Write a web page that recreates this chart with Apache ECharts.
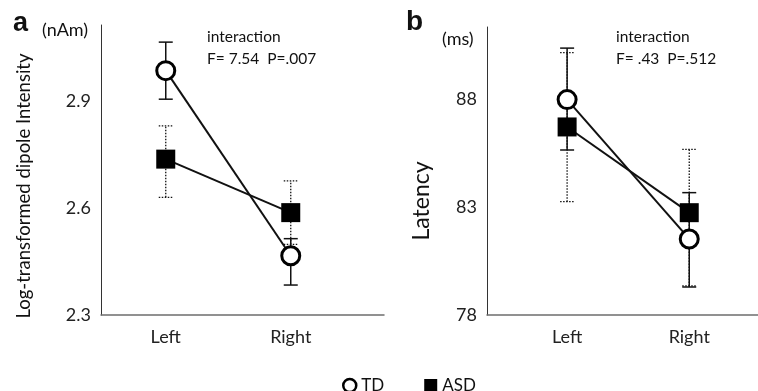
<!DOCTYPE html>
<html>
<head>
<meta charset="utf-8">
<script src="https://cdn.jsdelivr.net/npm/echarts@6/dist/echarts.min.js"></script>
<style>
html,body{margin:0;padding:0;background:#fff;}
#chart{width:758px;height:391px;}
</style>
</head>
<body>
<div id="chart"></div>
<script>
// ---- data ----
var categories = ['Left', 'Right'];
var catX = [1, 2];
var seriesNames = ['TD', 'ASD'];

// panel a: log-transformed dipole intensity (nAm)
var tdIntensity = [2.985, 2.466];
var tdIntensityLow = [2.905, 2.384];
var tdIntensityHigh = [3.065, 2.514];
var asdIntensity = [2.737, 2.587];
var asdIntensityLow = [2.630, 2.498];
var asdIntensityHigh = [2.830, 2.676];
var intensityTicks = [2.3, 2.6, 2.9];

// panel b: latency (ms)
var tdLatency = [88.0, 81.53];
var tdLatencyLow = [85.66, 79.3];
var tdLatencyHigh = [90.39, 83.68];
var asdLatency = [86.73, 82.75];
var asdLatencyLow = [83.26, 79.35];
var asdLatencyHigh = [90.18, 85.69];
var latencyTicks = [78, 83, 88];

var statsA = ['interaction', 'F= 7.54  P=.007'];
var statsB = ['interaction', 'F= .43  P=.512'];

// ---- helpers ----
var FONT = 'Lato';
function pts(vals) { return vals.map(function (v, i) { return [catX[i], v]; }); }
function errs(low, high) { return low.map(function (l, i) { return [catX[i], l, high[i]]; }); }
function errRender(dashed) {
  return function (params, api) {
    var x = api.value(0);
    var lo = api.coord([x, api.value(1)]);
    var hi = api.coord([x, api.value(2)]);
    var hw = 7;
    var style = { stroke: '#111', lineWidth: dashed ? 1.3 : 1.5, lineDash: dashed ? [1.5, 1.5] : null };
    return {
      type: 'group',
      children: [
        { type: 'line', shape: { x1: lo[0], y1: lo[1], x2: hi[0], y2: hi[1] }, style: style },
        { type: 'line', shape: { x1: hi[0] - hw, y1: hi[1], x2: hi[0] + hw, y2: hi[1] }, style: style },
        { type: 'line', shape: { x1: lo[0] - hw, y1: lo[1], x2: lo[0] + hw, y2: lo[1] }, style: style }
      ]
    };
  };
}
function xAxisCfg(idx, min, max) {
  return {
    type: 'value', gridIndex: idx, min: min, max: max,
    axisLine: { show: true, lineStyle: { color: '#6e6e6e', width: 1.5 } },
    axisTick: { show: false },
    splitLine: { show: false },
    axisLabel: {
      customValues: catX, fontFamily: FONT, fontSize: 18, color: '#222', margin: 13,
      formatter: function (v) { var i = catX.indexOf(Math.round(v)); return i >= 0 ? categories[i] : ''; }
    }
  };
}
function yAxisCfg(idx, min, max, ticks) {
  return {
    type: 'value', gridIndex: idx, min: min, max: max,
    axisLine: { show: true, lineStyle: { color: '#333', width: 1 } },
    axisTick: { show: false },
    splitLine: { show: false },
    axisLabel: { customValues: ticks, fontFamily: FONT, fontSize: 18, color: '#222', margin: 10 }
  };
}
function lineSeries(name, idx, vals, isTD) {
  return {
    name: name, type: 'line', xAxisIndex: idx, yAxisIndex: idx, z: 5,
    data: pts(vals),
    symbol: isTD ? 'circle' : 'rect',
    symbolSize: isTD ? 18 : 19,
    lineStyle: { color: '#111', width: 2 },
    itemStyle: isTD ? { color: '#fff', borderColor: '#000', borderWidth: 3 } : { color: '#000', borderColor: '#000', borderWidth: 0 },
    animation: false
  };
}
function errSeries(name, idx, low, high, dashed) {
  return {
    name: name, type: 'custom', xAxisIndex: idx, yAxisIndex: idx, z: 2,
    data: errs(low, high), renderItem: errRender(dashed),
    encode: { x: 0, y: [1, 2] }, animation: false, silent: true
  };
}
function txt(x, y, s, size, weight) {
  return { type: 'text', left: x, top: y, style: { text: s, fontFamily: weight === 'bold' ? 'Liberation Sans' : FONT, fontSize: size, fontWeight: weight || 'normal', fill: '#111' } };
}
function vtxt(cx, cy, s, size) {
  return { type: 'text', x: cx, y: cy, rotation: Math.PI / 2, style: { text: s, fontFamily: FONT, fontSize: size, fill: '#111', textAlign: 'center', textVerticalAlign: 'middle' } };
}

var chart = echarts.init(document.getElementById('chart'), null, { renderer: 'canvas' });
chart.setOption({
  backgroundColor: '#fff',
  animation: false,
  grid: [
    { left: 101, top: 25, width: 283, height: 290 },
    { left: 487, top: 27, width: 271, height: 288 }
  ],
  xAxis: [xAxisCfg(0, 0.482, 2.746), xAxisCfg(1, 0.344, 2.563)],
  yAxis: [
    yAxisCfg(0, 2.3, 3.113, intensityTicks),
    yAxisCfg(1, 78, 91.37, latencyTicks)
  ],
  legend: {
    left: 337, top: 372, itemGap: 40, itemWidth: 13, itemHeight: 13,
    textStyle: { fontFamily: FONT, fontSize: 17, color: '#111' },
    data: [
      { name: 'TD', icon: 'circle', itemStyle: { color: '#fff', borderColor: '#000', borderWidth: 2.5 } },
      { name: 'ASD', icon: 'rect', itemStyle: { color: '#000', borderWidth: 0 } }
    ]
  },
  graphic: [
    txt(13, 10, 'a', 27, 'bold'),
    txt(42, 21, '(nAm)', 18),
    vtxt(24, 186, 'Log-transformed dipole Intensity', 18.5),
    txt(207, 29, statsA[0], 15.5),
    txt(207, 51, statsA[1], 15.5),
    txt(406, 8, 'b', 28, 'bold'),
    txt(442, 30, '(ms)', 18),
    vtxt(422, 201, 'Latency', 23),
    txt(616, 29, statsB[0], 15.5),
    txt(616, 51, statsB[1], 15.5)
  ],
  series: [
    errSeries('TD', 0, tdIntensityLow, tdIntensityHigh, false),
    errSeries('ASD', 0, asdIntensityLow, asdIntensityHigh, true),
    lineSeries('TD', 0, tdIntensity, true),
    lineSeries('ASD', 0, asdIntensity, false),
    errSeries('ASD', 1, asdLatencyLow, asdLatencyHigh, true),
    errSeries('TD', 1, tdLatencyLow, tdLatencyHigh, false),
    lineSeries('TD', 1, tdLatency, true),
    lineSeries('ASD', 1, asdLatency, false)
  ]
});
</script>
</body>
</html>
